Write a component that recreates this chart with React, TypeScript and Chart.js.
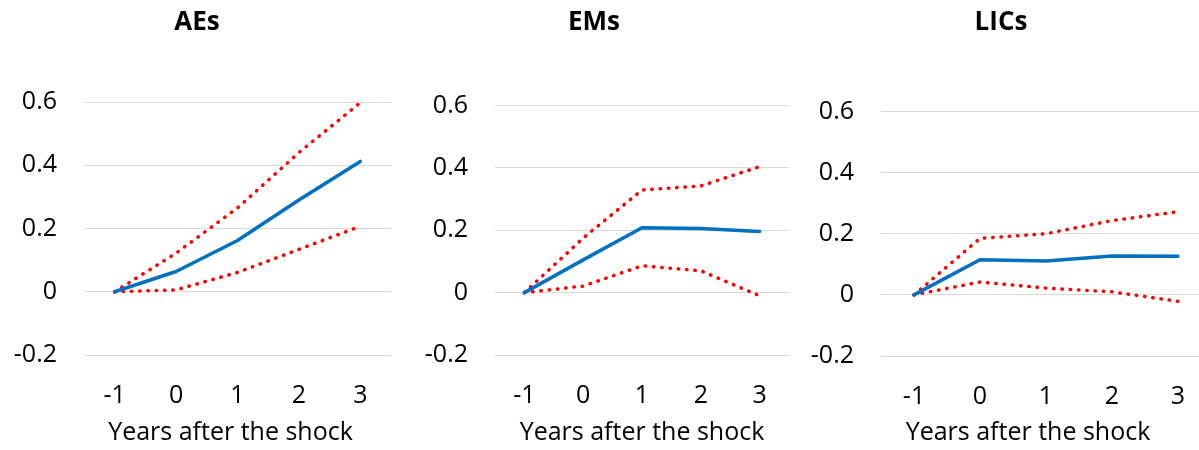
import React, { useEffect, useRef } from "react";
import { Chart, registerables } from "chart.js";

Chart.register(...registerables);

// ---- Data ----
const categories = ["-1", "0", "1", "2", "3"];
const yTickValues = [-0.2, 0, 0.2, 0.4, 0.6];
const panelTitles = ["AEs", "EMs", "LICs"];
const xAxisTitle = "Years after the shock";

const aesCentral = [0, 0.064, 0.162, 0.29, 0.412];
const aesUpper = [0, 0.122, 0.265, 0.44, 0.598];
const aesLower = [0, 0.006, 0.061, 0.134, 0.207];

const emsCentral = [0, 0.105, 0.208, 0.206, 0.196];
const emsUpper = [0, 0.175, 0.329, 0.342, 0.404];
const emsLower = [0, 0.021, 0.086, 0.07, -0.01];

const licsCentral = [0, 0.115, 0.111, 0.127, 0.126];
const licsUpper = [0, 0.185, 0.2, 0.243, 0.272];
const licsLower = [0, 0.042, 0.022, 0.01, -0.021];

const centralSeries = [aesCentral, emsCentral, licsCentral];
const upperSeries = [aesUpper, emsUpper, licsUpper];
const lowerSeries = [aesLower, emsLower, licsLower];

// ---- Layout (pixels) ----
const layouts = [
  { left: 3, width: 388, yAxisWidth: 81, top: 102, xAxisHeight: 95, axisTitleShift: -7 },
  { left: 399, width: 390, yAxisWidth: 96, top: 105.5, xAxisHeight: 95, axisTitleShift: 0 },
  { left: 791, width: 420, yAxisWidth: 90, top: 111.5, xAxisHeight: 94, axisTitleShift: -18 },
];

const FONT = "'Open Sans', 'Noto Sans', sans-serif";
const BLUE = "#0070C0";
const RED = "#FF0000";

function Panel({ index }: { index: number }) {
  const ref = useRef<HTMLCanvasElement | null>(null);
  const lay = layouts[index];

  useEffect(() => {
    if (!ref.current) return;
    const titleFontSize = 26;
    const titleLH = titleFontSize * 1.2;
    const titlePadTop = 7;
    const titlePadBottom = lay.top - titlePadTop - titleLH;

    const axisTitlePlugin = {
      id: "axisTitleShifted",
      afterDraw(chart: any) {
        const { ctx, chartArea } = chart;
        ctx.save();
        ctx.font = `25px ${FONT}`;
        ctx.fillStyle = "#000";
        ctx.textAlign = "center";
        ctx.textBaseline = "middle";
        const cx = (chartArea.left + chartArea.right) / 2 + lay.axisTitleShift;
        ctx.fillText(xAxisTitle, cx, chart.height - 2 - 15);
        ctx.restore();
      },
    };

    const chart = new Chart(ref.current, {
      type: "line",
      data: {
        labels: categories,
        datasets: [
          {
            label: "central",
            data: centralSeries[index],
            borderColor: BLUE,
            borderWidth: 3.5,
            pointRadius: 0,
            tension: 0,
            borderCapStyle: "round",
            borderJoinStyle: "round",
          },
          {
            label: "upper",
            data: upperSeries[index],
            borderColor: RED,
            borderWidth: 3.5,
            borderDash: [0.5, 7.8],
            borderCapStyle: "round",
            pointRadius: 0,
            tension: 0,
          },
          {
            label: "lower",
            data: lowerSeries[index],
            borderColor: RED,
            borderWidth: 3.5,
            borderDash: [0.5, 7.8],
            borderCapStyle: "round",
            pointRadius: 0,
            tension: 0,
          },
        ],
      },
      options: {
        responsive: false,
        animation: false,
        devicePixelRatio: 1,
        layout: { padding: 0 },
        plugins: {
          legend: { display: false },
          tooltip: { enabled: false },
          title: {
            display: true,
            text: panelTitles[index],
            color: "#000",
            font: { family: FONT, size: titleFontSize, weight: "bold", lineHeight: 1.2 },
            padding: { top: titlePadTop, bottom: titlePadBottom },
          },
        },
        scales: {
          x: {
            type: "category",
            offset: true,
            grid: { display: false, drawTicks: false },
            border: { display: false },
            ticks: {
              color: "#000",
              padding: 26,
              font: { family: FONT, size: 25, lineHeight: 1.2 },
              maxRotation: 0,
            },
            title: { display: false, text: xAxisTitle },
            afterFit: (scale: any) => {
              scale.height = lay.xAxisHeight;
              scale.paddingLeft = 0;
              scale.paddingRight = 0;
            },
          },
          y: {
            min: -0.2,
            max: 0.6,
            afterBuildTicks: (scale: any) => {
              scale.ticks = yTickValues.map((v) => ({ value: v }));
            },
            grid: { color: "#D9D9D9", lineWidth: 1, drawTicks: false },
            border: { display: false },
            ticks: {
              color: "#000",
              padding: 27,
              font: { family: FONT, size: 25, lineHeight: 1.2 },
              callback: (v: any) => {
                const n = Math.round(Number(v) * 10) / 10;
                return n === 0 ? "0" : String(n);
              },
            },
            afterFit: (scale: any) => {
              scale.width = lay.yAxisWidth;
            },
          },
        },
      },
      plugins: [axisTitlePlugin],
    });
    return () => chart.destroy();
  }, [index]);

  return (
    <div style={{ position: "absolute", left: lay.left, top: 0, width: lay.width, height: 450 }}>
      <canvas ref={ref} width={lay.width} height={450} style={{ display: "block" }} />
    </div>
  );
}

export default function App() {
  return (
    <div
      style={{
        position: "fixed",
        left: 0,
        top: 0,
        width: 1199,
        height: 450,
        overflow: "hidden",
        background: "#fff",
      }}
    >
      {panelTitles.map((_, i) => (
        <Panel key={i} index={i} />
      ))}
    </div>
  );
}
